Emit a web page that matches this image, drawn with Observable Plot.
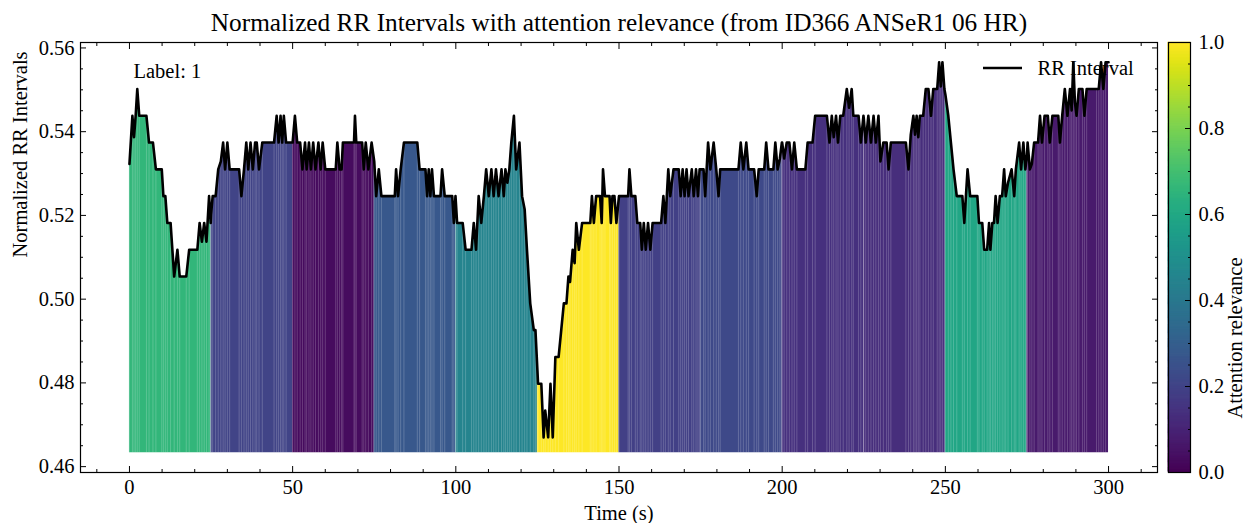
<!DOCTYPE html>
<html><head><meta charset="utf-8">
<script src="https://cdn.jsdelivr.net/npm/d3@7"></script>
<script src="https://cdn.jsdelivr.net/npm/@observablehq/plot@0.6"></script>
<style>
body{margin:0;background:#fff;}
#wrap{position:relative;width:1247px;height:523px;}
#wrap svg{position:absolute;top:0;overflow:visible;}
</style></head><body><div id="wrap"></div>
<script>
// ---- data ----
const titleText = "Normalized RR Intervals with attention relevance (from ID366 ANSeR1 06 HR)";
const xLabel = "Time (s)";
const yLabel = "Normalized RR Intervals";
const cbLabel = "Attention relevance";
const labelText = "Label: 1";
const legendText = "RR Interval";

// attention window starts (s) and relevance per 25 s window
const segStart = [0, 25, 50, 75, 100, 125, 150, 175, 200, 225, 250, 275];
const segEnd   = [25, 50, 75, 100, 125, 150, 175, 200, 225, 250, 275, 300];
const attention = [0.66, 0.20, 0.03, 0.27, 0.45, 1.00, 0.19, 0.22, 0.14, 0.13, 0.59, 0.07];

const barBottom = 0.4633;

const time = [
  0,0.9,1.4,1.9,2.4,3.0,5.2,6.0,7.2,8.1,9.9,10.4,11.0,11.6,12.6,13.7,14.7,15.4,17.4,18.3,20.8,21.5,22.2,22.9,23.6,24.4,24.9,
  25,25.5,26.4,27.2,28.0,28.7,29.3,30.0,30.7,33.6,34.3,35.1,35.8,36.4,37.1,37.8,38.5,39.0,39.7,40.7,44.3,45.1,45.7,46.3,46.8,47.3,48.0,
  50,50.7,51.4,52.3,53.0,53.8,54.3,55.0,55.6,56.3,57.0,57.9,58.6,59.2,60.0,63.2,63.7,64.4,65.0,65.4,68.8,69.1,69.5,71.3,71.8,72.4,73.2,74.2,
  75,75.6,76.4,77.2,81.3,81.7,82.3,83.1,84.1,88.2,88.9,90.7,91.2,91.7,92.2,92.7,93.3,95.3,95.8,96.6,98.9,99.4,99.9,
  100,100.4,102.1,103.0,104.8,105.5,106.2,107.0,107.8,108.6,109.3,110.1,110.9,111.6,112.3,113.1,114.0,114.7,115.2,115.8,116.4,117.0,117.8,118.5,119.5,120.3,121.1,121.8,122.8,123.9,124.4,
  125,125.2,126.2,126.9,127.4,128.3,129.0,129.7,130.5,131.5,133.1,133.9,134.5,135.0,135.8,136.4,136.9,137.7,138.7,141.2,141.7,142.3,143.0,144.2,144.7,145.1,145.7,147.1,147.5,148.0,148.6,149.2,
  150,152.8,153.2,153.8,155.0,155.6,156.5,157.0,157.6,158.2,158.9,159.6,160.3,162.9,163.6,164.2,165.1,165.7,166.7,168.3,168.9,169.5,170.1,170.7,171.3,172.3,172.9,173.6,174.2,174.7,
  175,175.9,176.4,177.3,178.0,179.0,179.8,180.5,181.0,186.6,187.3,188.1,189.0,189.7,191.4,192.2,192.8,194.5,195.1,195.8,197.3,197.9,198.6,199.3,199.9,
  200,200.6,201.4,202.2,203.0,203.7,204.5,207.1,207.8,209.3,210.1,213.7,214.5,215.2,215.8,216.5,217.1,217.8,218.7,219.8,220.5,221.3,221.8,223.4,224.1,224.9,
  225,225.6,226.4,227.2,228.0,228.7,229.5,230.1,231.0,232.0,232.6,233.3,237.9,238.7,239.4,240.2,240.7,241.2,241.7,242.2,243.2,244.0,244.8,245.6,246.3,247.5,248.1,248.6,249.1,249.7,
  250,250.9,251.7,252.5,253.5,255.2,255.8,256.8,257.6,259.8,260.3,261.3,261.9,262.8,263.4,263.8,264.4,264.9,265.4,266.0,266.7,267.4,268.0,268.5,269.2,270.3,271.1,271.6,272.6,273.2,273.9,274.5,
  275,275.2,275.9,276.5,277.2,278.4,279.0,279.6,280.4,281.4,282.0,282.8,284.6,285.1,285.8,286.6,287.4,288.2,288.7,289.2,289.7,290.2,290.9,292.0,292.6,293.3,296.3,297.0,297.7,298.4,299.1,300
];
const rr = [
  0.5323,0.5438,0.5387,0.5438,0.5502,0.5438,0.5438,0.5374,0.5374,0.5310,0.5310,0.5246,0.5246,0.5182,0.5182,0.5054,0.5118,0.5054,0.5054,0.5118,0.5118,0.5182,0.5137,0.5182,0.5137,0.5246,0.5182,
  0.5201,0.5246,0.5246,0.5310,0.5329,0.5374,0.5310,0.5374,0.5310,0.5310,0.5246,0.5310,0.5374,0.5310,0.5374,0.5310,0.5374,0.5374,0.5310,0.5374,0.5374,0.5438,0.5374,0.5438,0.5374,0.5438,0.5374,
  0.5374,0.5438,0.5374,0.5374,0.5310,0.5374,0.5310,0.5374,0.5310,0.5374,0.5310,0.5374,0.5310,0.5374,0.5310,0.5310,0.5374,0.5310,0.5310,0.5374,0.5374,0.5438,0.5374,0.5374,0.5310,0.5374,0.5310,0.5374,
  0.5329,0.5246,0.5310,0.5246,0.5246,0.5310,0.5246,0.5310,0.5374,0.5374,0.5310,0.5310,0.5246,0.5310,0.5246,0.5310,0.5246,0.5246,0.5310,0.5246,0.5246,0.5182,0.5246,
  0.5233,0.5182,0.5182,0.5118,0.5118,0.5182,0.5118,0.5246,0.5182,0.5246,0.5310,0.5246,0.5310,0.5246,0.5310,0.5246,0.5310,0.5246,0.5310,0.5278,0.5310,0.5374,0.5438,0.5310,0.5374,0.5246,0.5214,0.5118,0.4990,0.4926,0.4926,
  0.4830,0.4798,0.4798,0.4670,0.4734,0.4670,0.4798,0.4670,0.4862,0.4862,0.4990,0.4990,0.5054,0.5041,0.5118,0.5086,0.5182,0.5118,0.5182,0.5182,0.5246,0.5182,0.5246,0.5246,0.5182,0.5310,0.5246,0.5246,0.5182,0.5246,0.5246,0.5182,
  0.5246,0.5246,0.5310,0.5246,0.5246,0.5182,0.5182,0.5118,0.5182,0.5118,0.5182,0.5118,0.5182,0.5182,0.5246,0.5182,0.5310,0.5246,0.5310,0.5310,0.5246,0.5310,0.5246,0.5310,0.5246,0.5310,0.5246,0.5310,0.5246,0.5310,
  0.5310,0.5310,0.5246,0.5374,0.5310,0.5374,0.5310,0.5246,0.5310,0.5310,0.5374,0.5310,0.5374,0.5310,0.5310,0.5246,0.5310,0.5310,0.5374,0.5310,0.5310,0.5374,0.5310,0.5336,0.5374,
  0.5374,0.5336,0.5374,0.5374,0.5310,0.5374,0.5310,0.5310,0.5374,0.5374,0.5438,0.5438,0.5374,0.5438,0.5387,0.5438,0.5374,0.5438,0.5438,0.5502,0.5457,0.5502,0.5438,0.5438,0.5374,0.5438,
  0.5432,0.5374,0.5438,0.5374,0.5438,0.5374,0.5438,0.5329,0.5374,0.5374,0.5310,0.5374,0.5374,0.5310,0.5393,0.5438,0.5393,0.5438,0.5387,0.5438,0.5438,0.5502,0.5502,0.5438,0.5502,0.5502,0.5566,0.5508,0.5566,0.5502,
  0.5489,0.5438,0.5374,0.5310,0.5246,0.5246,0.5182,0.5310,0.5246,0.5246,0.5182,0.5182,0.5118,0.5118,0.5182,0.5118,0.5182,0.5182,0.5246,0.5182,0.5246,0.5246,0.5310,0.5246,0.5278,0.5310,0.5246,0.5310,0.5374,0.5310,0.5374,0.5310,
  0.5342,0.5374,0.5310,0.5323,0.5374,0.5374,0.5438,0.5374,0.5438,0.5438,0.5374,0.5438,0.5438,0.5374,0.5438,0.5502,0.5438,0.5502,0.5451,0.5566,0.5470,0.5438,0.5502,0.5502,0.5438,0.5502,0.5502,0.5502,0.5566,0.5502,0.5566,0.5566
];

const xTicks = [0, 50, 100, 150, 200, 250, 300];
const yTicks = [0.46, 0.48, 0.50, 0.52, 0.54, 0.56];
const cbTicks = [0, 0.2, 0.4, 0.6, 0.8, 1.0];

// ---- build tables ----
if (time.length !== rr.length) console.error("length mismatch", time.length, rr.length);
const points = time.map((t, i) => ({t, v: rr[i]}));
const areaData = [];
segStart.forEach((s, k) => {
  points.filter(p => p.t >= s && p.t <= segEnd[k]).forEach(p => areaData.push({...p, seg: k, att: attention[k]}));
});

const minorX = d3.range(-10, 311, 10).filter(d => d % 50 !== 0);
const minorY = d3.range(92, 113).filter(i => i % 4 !== 0).map(i => +(i * 0.005).toFixed(3));
const cbMinor = d3.range(0, 21).filter(i => i % 4 !== 0).map(i => +(i * 0.05).toFixed(2));

const FONT = "'Liberation Serif', 'Times New Roman', serif";
const FS = 20.5;
const M = {left: 80, right: 3, top: 42, bottom: 51};
const W = 1160, H = 523;
const blank = () => "";

const main = Plot.plot({
  width: W, height: H,
  marginLeft: M.left, marginRight: M.right, marginTop: M.top, marginBottom: M.bottom,
  style: {fontFamily: FONT, fontSize: FS + "px", color: "black", background: "transparent"},
  x: {domain: [-15, 315]},
  y: {domain: [0.4586, 0.5613]},
  color: {type: "linear", scheme: "viridis", domain: [0, 1]},
  marks: [
    Plot.areaY(areaData, {x: "t", y1: barBottom, y2: "v", z: "seg", fill: "att", curve: "linear"}),
    Plot.ruleX(points, {x: "t", y1: barBottom, y2: "v", stroke: "white", strokeOpacity: 0.2, strokeWidth: 1}),
    Plot.text([labelText], {text: d => d, frameAnchor: "top-left", lineAnchor: "middle", dx: 53, dy: 29, textAnchor: "start", fontSize: FS}),
    Plot.text([legendText], {text: d => d, frameAnchor: "top-right", lineAnchor: "middle", dx: -120, dy: 26, textAnchor: "start", fontSize: FS}),
    Plot.line(points, {x: "t", y: "v", stroke: "black", strokeWidth: 2.6, curve: "linear"}),
    Plot.frame({stroke: "black", strokeWidth: 1.2}),
    Plot.axisX({anchor: "bottom", ticks: xTicks, tickSize: -6, tickPadding: 13, tickFormat: d => String(d), label: null, fontSize: FS}),
    Plot.axisX({anchor: "bottom", ticks: minorX, tickSize: -3, tickPadding: 0, tickFormat: blank, label: null}),
    Plot.axisX({anchor: "top", ticks: xTicks, tickSize: -6, tickPadding: 0, tickFormat: blank, label: null}),
    Plot.axisX({anchor: "top", ticks: minorX, tickSize: -3, tickPadding: 0, tickFormat: blank, label: null}),
    Plot.axisY({anchor: "left", ticks: yTicks, tickSize: -6, tickPadding: 12, tickFormat: d3.format(".2f"), label: null, fontSize: FS}),
    Plot.axisY({anchor: "left", ticks: minorY, tickSize: -3, tickPadding: 0, tickFormat: blank, label: null}),
    Plot.axisY({anchor: "right", ticks: yTicks, tickSize: -6, tickPadding: 0, tickFormat: blank, label: null}),
    Plot.axisY({anchor: "right", ticks: minorY, tickSize: -3, tickPadding: 0, tickFormat: blank, label: null}),
    Plot.text([titleText], {text: d => d, frameAnchor: "top", lineAnchor: "middle", dy: -20, fontSize: 25.3}),
    Plot.text([xLabel], {text: d => d, frameAnchor: "bottom", lineAnchor: "middle", dy: 41, fontSize: FS}),
    Plot.text([yLabel], {text: d => d, frameAnchor: "left", lineAnchor: "middle", dx: -60, rotate: -90, fontSize: FS})
  ]
});

// legend line sample, placed under the data line
const ns = "http://www.w3.org/2000/svg";
const lg = document.createElementNS(ns, "line");
const lx = W - M.right;
lg.setAttribute("x1", lx - 174); lg.setAttribute("x2", lx - 135);
lg.setAttribute("y1", M.top + 26); lg.setAttribute("y2", M.top + 26);
lg.setAttribute("stroke", "black"); lg.setAttribute("stroke-width", 2.6);
const lineG = main.querySelector('g[aria-label="line"]');
if (lineG) main.insertBefore(lg, lineG); else main.appendChild(lg);

const cbSteps = d3.range(0, 400).map(i => i / 400);
const cb = Plot.plot({
  width: 87, height: H,
  marginLeft: 8, marginRight: 57, marginTop: M.top, marginBottom: M.bottom,
  style: {fontFamily: FONT, fontSize: FS + "px", color: "black", background: "transparent"},
  y: {domain: [0, 1]},
  color: {type: "linear", scheme: "viridis", domain: [0, 1]},
  marks: [
    Plot.rect(cbSteps, {y1: d => d, y2: d => Math.min(1, d + 0.004), fill: d => d + 0.00125, stroke: d => d + 0.00125, strokeWidth: 0.6}),
    Plot.frame({stroke: "black", strokeWidth: 1.2}),
    Plot.axisY({anchor: "right", ticks: cbTicks, tickSize: -6, tickPadding: 14, tickFormat: d3.format(".1f"), label: null, fontSize: FS}),
    Plot.axisY({anchor: "right", ticks: cbMinor, tickSize: -3, tickPadding: 0, tickFormat: blank, label: null}),
    Plot.text([cbLabel], {text: d => d, frameAnchor: "right", lineAnchor: "middle", dx: 45, rotate: -90, fontSize: FS})
  ]
});
cb.style.left = "1160px";
main.style.left = "0px";
const wrap = document.getElementById("wrap");
wrap.appendChild(main);
wrap.appendChild(cb);
</script>
</body></html>
